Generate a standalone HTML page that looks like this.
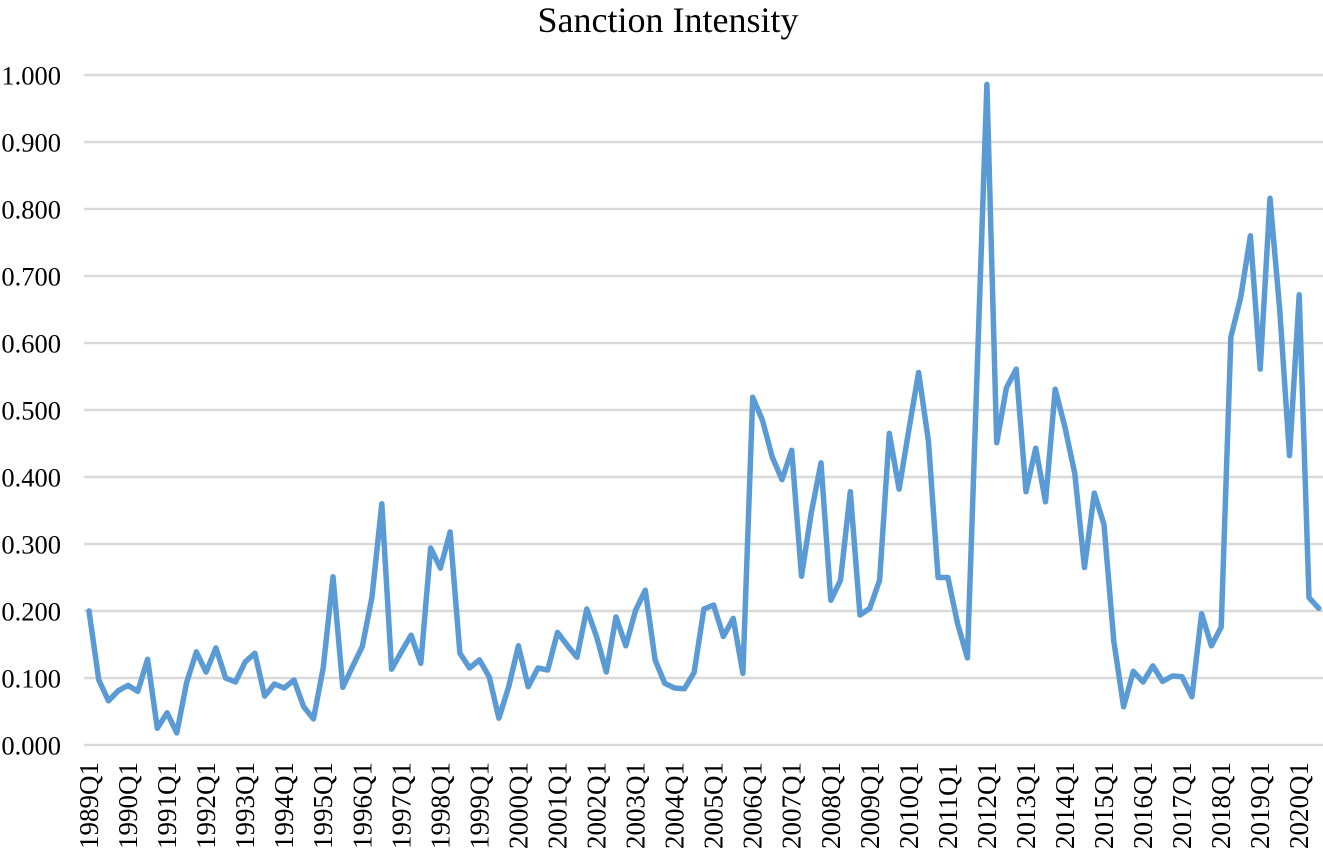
<!DOCTYPE html>
<html><head><meta charset="utf-8"><style>
body{margin:0;background:#fff;}
svg{display:block;font-family:"Liberation Serif",serif;}
</style></head><body>
<svg id="chart" width="1323" height="850" viewBox="0 0 1323 850">
<text x="668" y="32" text-anchor="middle" font-size="36">Sanction Intensity</text>
<g id="grid"></g><g id="ylab"></g><g id="xlab"></g><g id="series"></g>
</svg>
<script>
const yTicks=[0,0.1,0.2,0.3,0.4,0.5,0.6,0.7,0.8,0.9,1.0];
const startYear=1989;
const values=[0.2,0.097,0.066,0.081,0.089,0.080,0.128,0.025,0.048,0.018,0.093,0.139,0.109,0.145,0.100,0.094,0.124,0.137,0.073,0.091,0.085,0.097,0.057,0.039,0.115,0.251,0.086,0.117,0.147,0.221,0.360,0.113,0.139,0.164,0.122,0.294,0.264,0.318,0.137,0.115,0.127,0.102,0.040,0.087,0.148,0.087,0.115,0.112,0.168,0.149,0.131,0.203,0.162,0.109,0.191,0.148,0.201,0.231,0.127,0.092,0.085,0.084,0.108,0.203,0.209,0.162,0.189,0.107,0.519,0.485,0.430,0.396,0.440,0.252,0.346,0.421,0.216,0.246,0.378,0.194,0.204,0.246,0.465,0.382,0.470,0.556,0.454,0.250,0.250,0.181,0.130,0.560,0.986,0.451,0.533,0.561,0.378,0.443,0.363,0.531,0.474,0.405,0.265,0.376,0.329,0.155,0.057,0.110,0.094,0.118,0.095,0.103,0.102,0.072,0.196,0.148,0.176,0.609,0.668,0.760,0.561,0.816,0.650,0.432,0.672,0.220,0.204];
const NS="http://www.w3.org/2000/svg";
const x0=89,dx=9.76,y0=745,yScale=670;
function X(i){return x0+i*dx;}
function Y(v){return y0-v*yScale;}
const grid=document.getElementById('grid'),ylab=document.getElementById('ylab'),xlab=document.getElementById('xlab'),series=document.getElementById('series');
yTicks.forEach(t=>{
 const l=document.createElementNS(NS,'line');
 l.setAttribute('x1',84);l.setAttribute('x2',1323);l.setAttribute('y1',Y(t));l.setAttribute('y2',Y(t));
 l.setAttribute('stroke','#d9d9d9');l.setAttribute('stroke-width','2.5');
 
 
 grid.appendChild(l);
 const tx=document.createElementNS(NS,'text');
 tx.setAttribute('x',61);tx.setAttribute('y',Y(t)+9.5);tx.setAttribute('text-anchor','end');tx.setAttribute('font-size','26.5');
 tx.textContent=t.toFixed(3);
 
 
 ylab.appendChild(tx);
});
for(let i=0;i<values.length;i+=4){
 const tx=document.createElementNS(NS,'text');
 const cx=X(i)+9,cy=849;
 tx.setAttribute('x',cx);tx.setAttribute('y',cy);tx.setAttribute('font-size','27');
 tx.setAttribute('transform','rotate(-90 '+cx+' '+cy+')');
 tx.textContent=(startYear+i/4)+'Q1';
 
 
 xlab.appendChild(tx);
}
const p=document.createElementNS(NS,'polyline');
p.setAttribute('points',values.map((v,i)=>X(i).toFixed(1)+','+Y(v).toFixed(1)).join(' '));
p.setAttribute('fill','none');p.setAttribute('stroke','#5b9bd5');p.setAttribute('stroke-width','5.5');
p.setAttribute('stroke-linejoin','round');p.setAttribute('stroke-linecap','round');


series.appendChild(p);
</script>
</body></html>
